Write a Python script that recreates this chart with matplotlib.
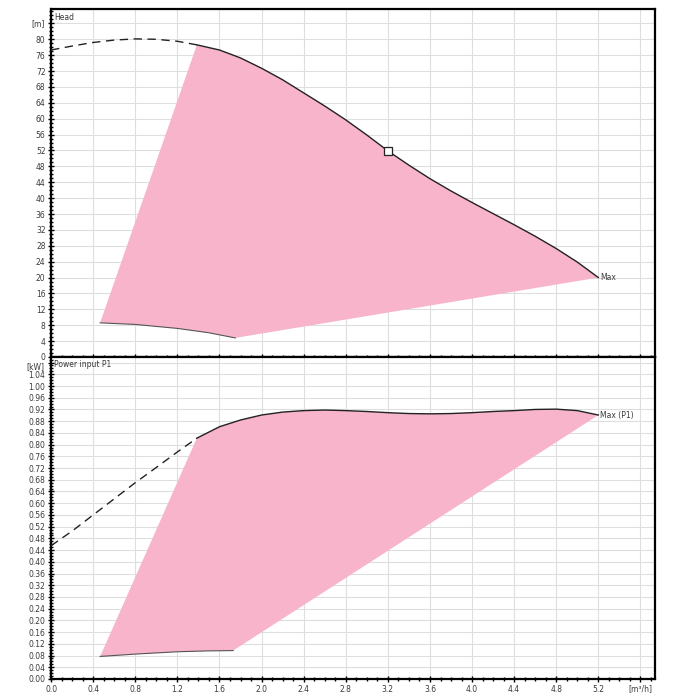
import matplotlib
matplotlib.use("Agg")
import matplotlib.pyplot as plt
from matplotlib.ticker import MultipleLocator, FuncFormatter

# ---- data ----
# head, max speed curve (dashed part outside allowed range)
head_dash_q = [0.0, 0.2, 0.4, 0.6, 0.8, 1.0, 1.2, 1.385]
head_dash_h = [77.3, 78.3, 79.2, 79.8, 80.1, 80.0, 79.5, 78.6]
head_max_q = [1.385, 1.6, 1.8, 2.0, 2.2, 2.4, 2.6, 2.8, 3.0, 3.2, 3.4, 3.6,
              3.8, 4.0, 4.2, 4.4, 4.6, 4.8, 5.0, 5.2]
head_max_h = [78.6, 77.3, 75.3, 72.7, 69.8, 66.5, 63.2, 59.7, 55.9, 51.9,
              48.3, 44.9, 41.8, 38.9, 36.1, 33.3, 30.4, 27.3, 23.9, 20.0]
# head, min speed curve
head_min_q = [0.466, 0.8, 1.2, 1.5, 1.75]
head_min_h = [8.6, 8.2, 7.2, 6.1, 4.8]
# duty point
duty_q = 3.2
duty_h = 51.9

# power input P1
p1_dash_q = [0.0, 0.2, 0.4, 0.6, 0.8, 1.0, 1.2, 1.385]
p1_dash_p = [0.455, 0.505, 0.56, 0.615, 0.67, 0.722, 0.775, 0.822]
p1_max_q = [1.385, 1.6, 1.8, 2.0, 2.2, 2.4, 2.6, 2.8, 3.0, 3.2, 3.4, 3.6,
            3.8, 4.0, 4.2, 4.4, 4.6, 4.8, 5.0, 5.2]
p1_max_p = [0.822, 0.861, 0.884, 0.901, 0.911, 0.916, 0.918, 0.916, 0.913,
            0.909, 0.906, 0.905, 0.906, 0.909, 0.913, 0.916, 0.920, 0.921,
            0.916, 0.901]
p1_min_q = [0.466, 0.8, 1.2, 1.5, 1.73]
p1_min_p = [0.077, 0.085, 0.093, 0.096, 0.097]

x_ticks = [0.0, 0.4, 0.8, 1.2, 1.6, 2.0, 2.4, 2.8, 3.2, 3.6, 4.0, 4.4, 4.8, 5.2, 5.6]
x_labels = ["0.0", "0.4", "0.8", "1.2", "1.6", "2.0", "2.4", "2.8", "3.2",
            "3.6", "4.0", "4.4", "4.8", "5.2", "[m\u00b3/h]"]

PINK = "#F8B4CA"
TXT = "#3a3a3a"
FS = 5.5

fig = plt.figure(figsize=(7, 7), dpi=100)
ax1 = fig.add_axes([0.073, 0.49, 0.863, 0.497])
ax2 = fig.add_axes([0.073, 0.03, 0.863, 0.46])


def style(ax, ymax, ymajor, yminor, fmt, ylim_label):
    ax.set_xlim(0, 5.74)
    ax.set_ylim(0, ymax)
    ax.set_xticks(x_ticks)
    ax.xaxis.set_minor_locator(MultipleLocator(0.1))
    ax.yaxis.set_major_locator(MultipleLocator(ymajor))
    ax.yaxis.set_minor_locator(MultipleLocator(yminor))
    # top tick position carries the unit label instead of a number
    ax.yaxis.set_major_formatter(FuncFormatter(
        lambda v, p: "" if v > ylim_label else fmt % v))
    ax.grid(True, which="major", color="#dedede", lw=0.8)
    ax.set_axisbelow(True)
    ax.tick_params(which="both", direction="inout", labelsize=FS,
                   labelcolor=TXT, width=1.0, pad=1.5)
    ax.tick_params(which="major", length=5)
    ax.tick_params(which="minor", length=3)
    for s in ax.spines.values():
        s.set_linewidth(1.6)


# ---- head ----
style(ax1, 87.6, 4, 1, "%d", 81)
ax1.set_xticklabels([])
poly_q = head_max_q + head_min_q[::-1]
poly_h = head_max_h + head_min_h[::-1]
ax1.fill(poly_q, poly_h, color=PINK, lw=0, zorder=1)
ax1.plot(head_dash_q, head_dash_h, color="#222222", lw=1.0, dashes=(6, 4), zorder=3)
ax1.plot(head_max_q, head_max_h, color="#222222", lw=1.0, zorder=3)
ax1.plot(head_min_q, head_min_h, color="#555555", lw=0.8, zorder=3)
ax1.plot(duty_q, duty_h, marker="s", ms=6, mfc="white", mec="#222222", mew=0.9, zorder=4)
ax1.text(head_max_q[-1] + 0.02, head_max_h[-1], "Max", fontsize=FS, color=TXT,
         va="center", ha="left")
ax1.text(0.03, 86.5, "Head", fontsize=FS, color=TXT, va="top", ha="left")
ax1.text(-0.06, 84, "[m]", fontsize=FS, color=TXT, va="center", ha="right")

# ---- power ----
style(ax2, 1.099, 0.04, 0.01, "%.2f", 1.05)
ax2.set_xticklabels(x_labels)
poly_q = p1_max_q + p1_min_q[::-1]
poly_p = p1_max_p + p1_min_p[::-1]
ax2.fill(poly_q, poly_p, color=PINK, lw=0, zorder=1)
ax2.plot(p1_dash_q, p1_dash_p, color="#222222", lw=1.0, dashes=(6, 4), zorder=3)
ax2.plot(p1_max_q, p1_max_p, color="#222222", lw=1.0, zorder=3)
ax2.plot(p1_min_q, p1_min_p, color="#555555", lw=0.8, zorder=3)
ax2.text(p1_max_q[-1] + 0.02, p1_max_p[-1], "Max (P1)", fontsize=FS, color=TXT,
         va="center", ha="left")
ax2.text(0.03, 1.072, "Power input P1", fontsize=FS, color=TXT, va="center", ha="left")
ax2.text(-0.06, 1.066, "[kW]", fontsize=FS, color=TXT, va="center", ha="right")

fig.savefig("out.png", dpi=100)
